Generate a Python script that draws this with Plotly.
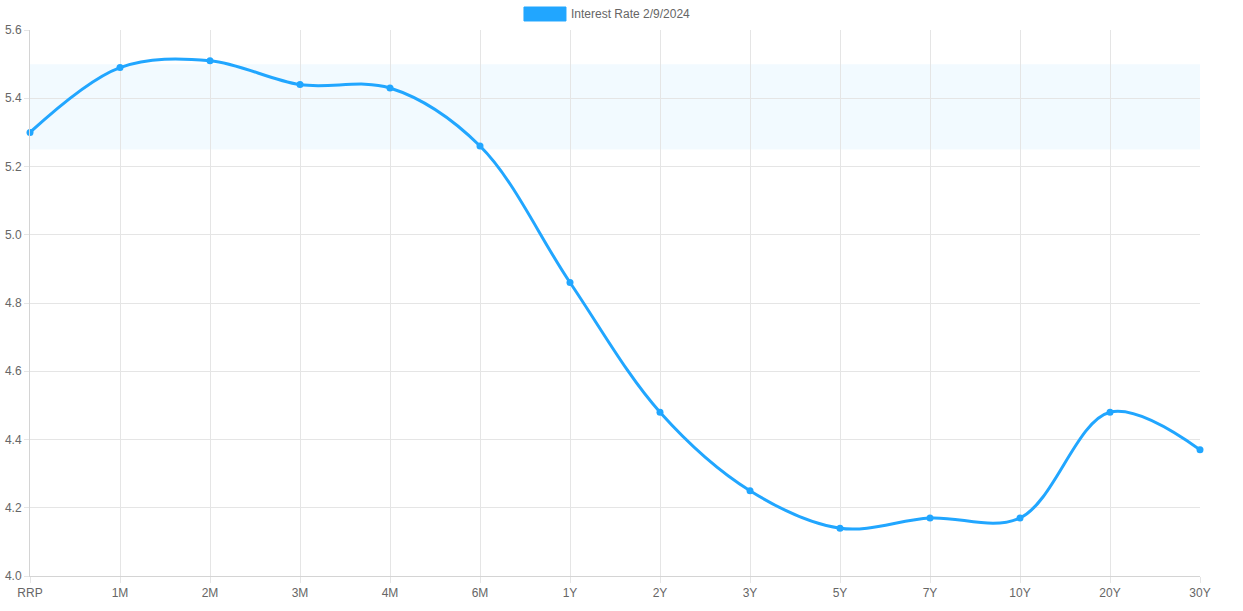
import plotly.graph_objects as go

# Treasury yield curve data
maturities = ["RRP", "1M", "2M", "3M", "4M", "6M", "1Y", "2Y", "3Y", "5Y", "7Y", "10Y", "20Y", "30Y"]
rates = [5.30, 5.49, 5.51, 5.44, 5.43, 5.26, 4.86, 4.48, 4.25, 4.14, 4.17, 4.17, 4.48, 4.37]
fed_low = 5.25
fed_high = 5.50
series_name = "Interest Rate 2/9/2024"

line_color = "#21a6ff"
grid_color = "#e5e5e5"
font = dict(family="Liberation Sans, Arial, sans-serif", size=12, color="#666666")

fig = go.Figure()

fig.add_trace(go.Scatter(
    x=maturities, y=rates, mode="lines+markers", name=series_name,
    line=dict(color=line_color, width=3, shape="spline", smoothing=1.0),
    marker=dict(color=line_color, size=7),
    cliponaxis=False, hoverinfo="x+y", showlegend=False,
))

# fed funds target range band
fig.add_shape(type="rect", xref="paper", yref="y", x0=0, x1=1, y0=fed_low, y1=fed_high,
              fillcolor="rgba(33,166,255,0.06)", line_width=0, layer="below")

# chart.js style legend at the top
fig.add_shape(type="rect", xref="paper", yref="paper", x0=0.4222, x1=0.4581, y0=1.0165, y1=1.0421,
              fillcolor=line_color, line=dict(color=line_color, width=1))
fig.add_annotation(xref="paper", yref="paper", x=0.4607, y=1.0293, text=series_name,
                   showarrow=False, xanchor="left", yanchor="middle", font=font)

fig.update_layout(
    width=1243, height=611,
    margin=dict(l=30, r=43, t=30, b=35),
    paper_bgcolor="white", plot_bgcolor="white",
    font=font,
    xaxis=dict(type="category", range=[0, len(maturities) - 1], showgrid=True, gridcolor=grid_color,
               showline=True, linecolor="#d4d4d4", ticks="outside", ticklen=6, tickcolor=grid_color,
               zeroline=False, automargin=False),
    yaxis=dict(range=[4.0, 5.6], dtick=0.2, tickformat=".1f", showgrid=True, gridcolor=grid_color,
               showline=True, linecolor="#d4d4d4", ticks="outside", ticklen=5, tickcolor=grid_color,
               zeroline=False, automargin=False),
)

# drop the default page margin so the chart sits at the window corner
fig.write_html("out.html", config={"displayModeBar": False},
               post_script="document.body.style.margin='0';")
